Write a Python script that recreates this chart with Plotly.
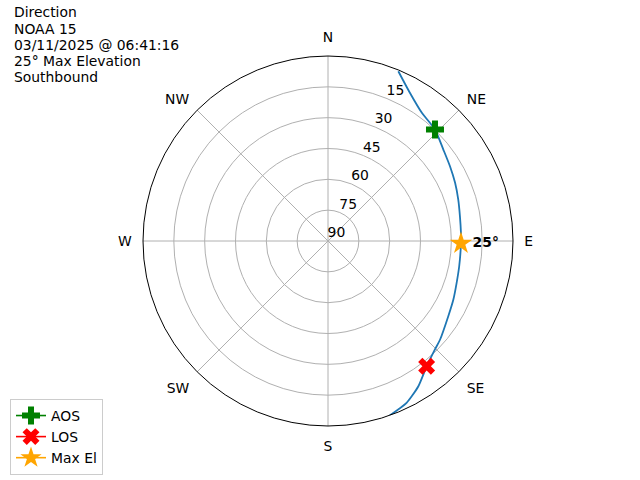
import math
import plotly.graph_objects as go

# ---- data ----
title_lines = ["Direction", "NOAA 15", "03/11/2025 @ 06:41:16", "25° Max Elevation", "Southbound"]
track_az = [22.5, 28.9, 36.2, 43.8, 51.6, 58.5, 65.4, 72.3, 79.4, 86.5, 91.0, 100.9,
            108.0, 115.0, 122.0, 131.3, 135.4, 141.8, 148.1, 154.1, 160.5]
track_el = [0.6, 7.6, 12.7, 14.8, 18.4, 20.4, 22.0, 23.5, 24.7, 25.2, 25.3, 25.0,
            24.2, 22.7, 21.0, 17.4, 15.9, 12.4, 6.8, 2.5, 0.0]
aos_az, aos_el = 43.8, 14.8
los_az, los_el = 141.8, 12.4
max_az, max_el = 91.0, 25.3
max_label = "25°"
compass_vals = [0, 45, 90, 135, 180, 225, 270, 315]
compass_text = ["N", "NE", "E", "SE", "S", "SW", "W", "NW"]
radial_vals = [0, 15, 30, 45, 60, 75]
radial_text = ["90", "75", "60", "45", "30", "15"]

FONT = "DejaVu Sans"
LABEL_ANGLE = 22.5  # compass direction along which radial labels sit

def to_r(el):
    return 90 - el

fig = go.Figure()
fig.add_trace(go.Scatterpolar(
    theta=track_az, r=[to_r(e) for e in track_el], mode="lines",
    line=dict(color="#1f77b4", width=1.8, shape="spline", smoothing=0.6),
    showlegend=False, hoverinfo="skip"))
fig.add_trace(go.Scatterpolar(
    theta=[aos_az], r=[to_r(aos_el)], mode="lines+markers", name="AOS",
    line=dict(color="green", width=1.6),
    marker=dict(symbol="cross", size=15, color="green")))
fig.add_trace(go.Scatterpolar(
    theta=[los_az], r=[to_r(los_el)], mode="lines+markers", name="LOS",
    line=dict(color="red", width=1.6),
    marker=dict(symbol="x", size=15, color="red")))
fig.add_trace(go.Scatterpolar(
    theta=[max_az], r=[to_r(max_el)], mode="lines+markers", name="Max El",
    line=dict(color="orange", width=1.6),
    marker=dict(symbol="star", size=17, color="orange")))
fig.add_trace(go.Scatterpolar(
    theta=[max_az], r=[to_r(max_el)], mode="markers+text", text=["<b>" + max_label + "</b>"],
    textposition="middle right", textfont=dict(family=FONT, size=13.9, color="black"),
    marker=dict(size=17, opacity=0), showlegend=False, hoverinfo="skip"))

# radial tick labels, placed just outside each ring, slightly clockwise of the label line
along, perp = 4.9, 2.4
lab_r = [math.hypot(t + along, perp) for t in radial_vals]
lab_th = [LABEL_ANGLE + math.degrees(math.atan2(perp, t + along)) for t in radial_vals]
fig.add_trace(go.Scatterpolar(
    theta=lab_th, r=lab_r, mode="text", text=radial_text,
    textfont=dict(family=FONT, size=13.9, color="black"),
    showlegend=False, hoverinfo="skip"))

for i, t in enumerate(title_lines):
    fig.add_annotation(text=t, xref="paper", yref="paper", x=12/640, y=1 - (12.3 + 16.25*i)/480,
                       xanchor="left", yanchor="middle", showarrow=False, align="left",
                       font=dict(family=FONT, size=13.9, color="black"))

fig.update_layout(
    width=640, height=480, margin=dict(l=0, r=0, t=0, b=0),
    paper_bgcolor="white", plot_bgcolor="white",
    font=dict(family=FONT, size=13.9, color="black"),
    polar=dict(
        domain=dict(x=[143/640, 513/640], y=[1 - 426/480, 1 - 56/480]),
        bgcolor="white",
        angularaxis=dict(rotation=90, direction="clockwise", tickmode="array",
                         tickvals=compass_vals, ticktext=compass_text,
                         showline=True, linecolor="black", linewidth=1,
                         gridcolor="#b0b0b0", gridwidth=0.8,
                         ticks="outside", ticklen=8, tickcolor="rgba(0,0,0,0)",
                         tickfont=dict(family=FONT, size=13.9, color="black")),
        radialaxis=dict(range=[0, 90], tickmode="array", tickvals=radial_vals,
                        ticktext=radial_text, angle=67.5, showticklabels=False,
                        showline=False, ticks="",
                        gridcolor="#b0b0b0", gridwidth=0.8),
    ),
    legend=dict(x=10/640, y=1 - 475/480, xanchor="left", yanchor="bottom",
                bordercolor="#cccccc", borderwidth=1, bgcolor="white",
                font=dict(family=FONT, size=13.9, color="black")),
)
fig.write_html("out.html", config={"displayModeBar": False},
               post_script="document.body.style.margin='0';")
